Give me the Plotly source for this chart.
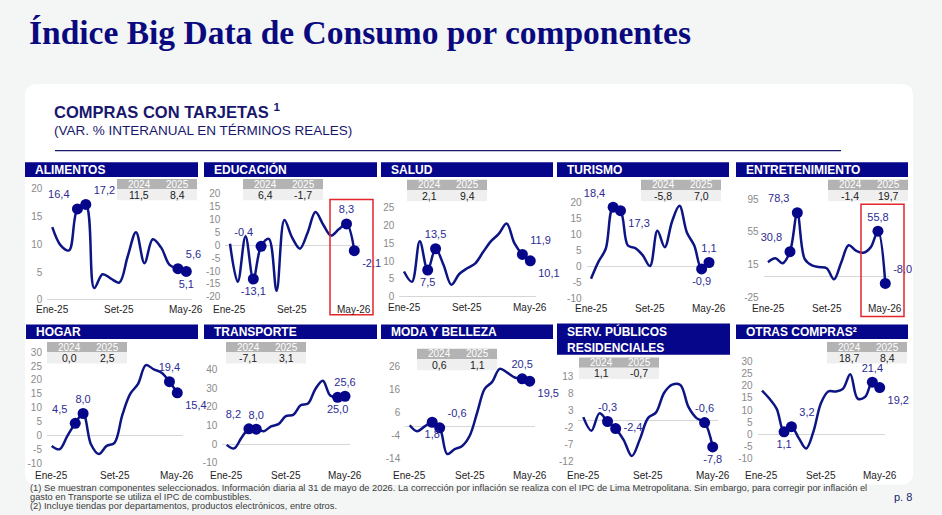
import plotly.graph_objects as go

# ---------------- DATA ----------------
months = ["Ene-25", "Feb-25", "Mar-25", "Abr-25", "May-25", "Jun-25", "Jul-25", "Ago-25", "Set-25",
          "Oct-25", "Nov-25", "Dic-25", "Ene-26", "Feb-26", "Mar-26", "Abr-26", "May-26"]
x_tick_labels = ["Ene-25", "Set-25", "May-26"]
highlight_months = ["Abr-25", "May-25", "Abr-26", "May-26"]

panel_names = ["ALIMENTOS", "EDUCACIÓN", "SALUD", "TURISMO", "ENTRETENIMIENTO",
               "HOGAR", "TRANSPORTE", "MODA Y BELLEZA", "SERV. PÚBLICOS<br>RESIDENCIALES", "OTRAS COMPRAS²"]

alimentos = [13.1, 9.8, 8.9, 16.4, 17.2, 2.1, 4.6, 3.8, 3.1, 7.8, 12.2, 6.6, 10.9, 9.4, 6.3, 5.6, 5.1]
educacion = [0.6, -14.2, 3.4, -13.1, -0.4, 2.5, -17.7, 9.8, 3.0, -1.3, 5.0, 12.9, 8.0, 3.8, 6.2, 8.3, -2.1]
salud = [7.1, 4.2, 15.6, 7.5, 13.5, 9.0, 3.4, 6.4, 8.0, 9.3, 12.5, 15.6, 17.7, 20.6, 15.0, 11.9, 10.1]
turismo = [-4.0, 1.3, 5.4, 18.4, 17.3, 6.4, 5.6, 3.4, 0.0, 11.0, 5.9, 14.0, 18.8, 10.5, 6.4, -0.9, 1.1]
entretenimiento = [17.9, 22.7, 16.7, 30.8, 78.3, 22.0, 14.0, 12.0, 10.5, -3.0, 18.0, 38.6, 32.0, 29.4, 36.0, 55.8, -8.0]
hogar = [-3.6, -4.8, 0.0, 4.5, 8.0, -3.0, -6.5, -3.6, -2.5, 7.5, 15.0, 18.6, 25.3, 23.8, 22.6, 19.4, 15.4]
transporte = [-0.4, -2.3, 3.4, 8.2, 8.0, 6.9, 9.5, 10.7, 15.0, 15.6, 20.8, 21.7, 29.5, 33.9, 26.0, 25.0, 25.6]
moda = [0.5, -2.1, 0.0, 1.8, -0.6, -11.9, -9.8, -8.4, -4.0, 6.0, 16.2, 19.2, 24.8, 23.2, 21.1, 20.5, 19.5]
serv_publicos = [1.0, -3.0, 2.1, -0.3, -2.4, -5.8, -10.5, -5.5, 0.7, 2.4, 8.2, 10.6, 10.5, 4.0, 0.7, -0.6, -7.8]
otras = [18.0, 14.7, 10.5, 1.1, 3.2, -1.5, -5.7, 1.3, 12.7, 17.6, 17.6, 18.7, 24.7, 14.7, 15.3, 21.4, 19.2]

annual_2024 = [11.5, 6.4, 2.1, -5.8, -1.4, 0.0, -7.1, 0.6, 1.1, 18.7]
annual_2025 = [8.4, -1.7, 9.4, 7.0, 19.7, 2.5, 3.1, 1.1, -0.7, 8.4]
table_years = ["2024", "2025"]

y_ticks = [
    [0, 5, 10, 15, 20],
    [-20, -15, -10, -5, 0, 5, 10, 15, 20],
    [0, 5, 10, 15, 20, 25],
    [-10, -5, 0, 5, 10, 15, 20],
    [-25, 15, 55, 95],
    [-10, -5, 0, 5, 10, 15, 20, 25, 30],
    [-10, 0, 10, 20, 30, 40],
    [-14, -4, 6, 16, 26],
    [-12, -7, -2, 3, 8, 13],
    [-10, -5, 0, 5, 10, 15, 20, 25, 30],
]

series = [alimentos, educacion, salud, turismo, entretenimiento,
          hogar, transporte, moda, serv_publicos, otras]

# ---------------- STYLE / GEOMETRY (pixels) ----------------
W, H = 942, 515
NAVY = "#06068a"
LINE = "#0c1583"
LABEL = "#2c2c92"
FONT = "Liberation Sans"

def px(x):
    return x / W

def py(y):
    return 1 - y / H

# x pixel of first / last month, y pixel of top / bottom tick
geo = [
    dict(x0=52.3, x16=186.3, yt=187.3, yb=300.7),
    dict(x0=230.0, x16=354.3, yt=192.3, yb=297.7),
    dict(x0=404.0, x16=530.3, yt=206.7, yb=297.7),
    dict(x0=591.0, x16=709.0, yt=200.7, yb=299.0),
    dict(x0=768.0, x16=885.3, yt=197.7, yb=298.3),
    dict(x0=51.7, x16=177.3, yt=354.3, yb=468.7),
    dict(x0=226.7, x16=345.0, yt=372.0, yb=467.7),
    dict(x0=409.7, x16=529.7, yt=368.7, yb=463.7),
    dict(x0=583.3, x16=712.7, yt=379.3, yb=466.0),
    dict(x0=762.0, x16=879.7, yt=363.7, yb=463.7),
]
xlabel_y = [311, 311, 309, 310, 310, 481, 481, 481, 481, 481]
headers = [
    (25, 160, 198, 175), (204, 160, 377, 175), (381, 160, 553, 175), (557, 160, 729, 175), (736, 160, 908, 175),
    (26, 326, 198, 341), (204, 326, 377, 341), (381, 326, 553, 341), (557, 325, 730, 357), (736, 326, 908, 341),
]
tables = [(117, 177), (243, 177), (407, 178), (641, 178), (828, 178),
          (47, 344), (226, 344), (417, 351), (579, 360), (827, 344)]
text_pos = [
    ["top left", "top right", "top right", "bottom center"],
    ["bottom center", "top left", "top center", "bottom right"],
    ["bottom center", "top center", "top right", "bottom right"],
    ["top left", "bottom right", "bottom center", "top center"],
    ["top left", "top left", "top center", "top right"],
    ["top left", "top center", "top center", "bottom right"],
    ["top left", "top center", "bottom center", "top center"],
    ["bottom center", "top right", "top center", "bottom right"],
    ["top center", "middle right", "top center", "bottom center"],
    ["bottom center", "top right", "top center", "bottom right"],
]
red_boxes = [(330, 198, 373, 316), (861, 203, 904, 318)]

XMIN, XMAX = -0.6, 16.7


def fmt(v):
    return f"{v:.1f}".replace(".", ",")


fig = go.Figure()
layout_axes = {}
shapes = []
annotations = []

# card background
cx0, cy0, cx1, cy1, r = 25, 80, 913, 490, 12
card_path = (
    f"M {px(cx0 + r)} {py(cy0)} L {px(cx1 - r)} {py(cy0)} Q {px(cx1)} {py(cy0)} {px(cx1)} {py(cy0 + r)} "
    f"L {px(cx1)} {py(cy1 - r)} Q {px(cx1)} {py(cy1)} {px(cx1 - r)} {py(cy1)} "
    f"L {px(cx0 + r)} {py(cy1)} Q {px(cx0)} {py(cy1)} {px(cx0)} {py(cy1 - r)} "
    f"L {px(cx0)} {py(cy0 + r)} Q {px(cx0)} {py(cy0)} {px(cx0 + r)} {py(cy0)} Z"
)
shapes.append(dict(type="path", path=card_path, xref="paper", yref="paper",
                   fillcolor="white", line=dict(width=0), layer="below"))

# subtitle rule
shapes.append(dict(type="line", xref="paper", yref="paper", x0=px(55), x1=px(841), y0=py(148), y1=py(148),
                   line=dict(color="#1b1b6e", width=1.2)))

month_index = {m: i for i, m in enumerate(months)}
hi_idx = [month_index[m] for m in highlight_months]
tick_idx = [month_index[m] for m in x_tick_labels]

for k in range(10):
    g = geo[k]
    pitch = (g["x16"] - g["x0"]) / 16
    dl = g["x0"] + XMIN * pitch
    dr = g["x0"] + XMAX * pitch
    sfx = "" if k == 0 else str(k + 1)
    vals = series[k]
    ticks = y_ticks[k]

    layout_axes["xaxis" + sfx] = dict(
        domain=[px(dl), px(dr)], range=[XMIN, XMAX], anchor="y" + sfx,
        showticklabels=False, showgrid=False, zeroline=False,
        showline=False, ticks="", fixedrange=True)
    layout_axes["yaxis" + sfx] = dict(
        domain=[py(g["yb"]), py(g["yt"])], range=[min(ticks), max(ticks)], anchor="x" + sfx,
        tickvals=ticks, ticktext=[str(t) for t in ticks], showgrid=False,
        zeroline=True, zerolinecolor="#d6d6d6", zerolinewidth=1.2,
        showline=False, ticks="", ticklabelstandoff=4,
        tickfont=dict(family=FONT, size=10, color="#8a8a8a"), fixedrange=True)

    # x tick labels as axis-anchored annotations (placed lower, like the reference)
    for ti, lab in zip(tick_idx, x_tick_labels):
        annotations.append(dict(text=lab, xref="x" + sfx, yref="paper", x=ti, y=py(xlabel_y[k]),
                                xanchor="center", yanchor="middle", showarrow=False,
                                font=dict(family=FONT, size=10, color="#1e1e1e")))

    fig.add_trace(go.Scatter(
        x=list(range(len(months))), y=vals, mode="lines",
        line=dict(color=LINE, width=2.5, shape="spline", smoothing=1.0),
        xaxis="x" + sfx, yaxis="y" + sfx, hoverinfo="skip", showlegend=False))
    fig.add_trace(go.Scatter(
        x=hi_idx, y=[vals[i] for i in hi_idx], mode="markers+text",
        text=[fmt(vals[i]) for i in hi_idx], textposition=text_pos[k],
        textfont=dict(family=FONT, size=11, color=LABEL),
        marker=dict(size=11, color=NAVY), cliponaxis=False,
        xaxis="x" + sfx, yaxis="y" + sfx, hoverinfo="skip", showlegend=False))

    # header bar
    hx0, hy0, hx1, hy1 = headers[k]
    shapes.append(dict(type="rect", xref="paper", yref="paper", x0=px(hx0), x1=px(hx1), y0=py(hy1), y1=py(hy0),
                       fillcolor=NAVY, line=dict(width=0)))
    annotations.append(dict(text="<b>" + panel_names[k] + "</b>", xref="paper", yref="paper",
                            x=px(hx0 + 8), y=py((hy0 + hy1) / 2), xanchor="left", yanchor="middle",
                            showarrow=False, align="left",
                            font=dict(family=FONT, size=12, color="white")))

    # small table
    tx, ty = tables[k]
    tw, th1, th2 = 80, 10.5, 11.5
    shapes.append(dict(type="rect", xref="paper", yref="paper", x0=px(tx), x1=px(tx + tw),
                       y0=py(ty + th1), y1=py(ty), fillcolor="#b3b3b3", line=dict(width=0)))
    shapes.append(dict(type="rect", xref="paper", yref="paper", x0=px(tx), x1=px(tx + tw),
                       y0=py(ty + th1 + th2), y1=py(ty + th1), fillcolor="#efefef", line=dict(width=0)))
    for j, (yr, val) in enumerate(zip(table_years, [annual_2024[k], annual_2025[k]])):
        cxp = tx + tw * (0.28 + 0.47 * j)
        annotations.append(dict(text=yr, xref="paper", yref="paper", x=px(cxp), y=py(ty + th1 / 2),
                                xanchor="center", yanchor="middle", showarrow=False,
                                font=dict(family=FONT, size=10, color="white")))
        annotations.append(dict(text=fmt(val), xref="paper", yref="paper", x=px(cxp), y=py(ty + th1 + th2 / 2),
                                xanchor="center", yanchor="middle", showarrow=False,
                                font=dict(family=FONT, size=10.5, color="#1a1a1a")))

for (bx0, by0, bx1, by1) in red_boxes:
    shapes.append(dict(type="rect", xref="paper", yref="paper", x0=px(bx0), x1=px(bx1), y0=py(by1), y1=py(by0),
                       line=dict(color="#e3262b", width=1.5), fillcolor="rgba(0,0,0,0)"))

# titles
annotations.append(dict(text="<b>Índice Big Data de Consumo por componentes</b>", xref="paper", yref="paper",
                        x=px(27), y=py(27), xanchor="left", yanchor="middle", showarrow=False,
                        font=dict(family="Liberation Serif", size=33.5, color="#0a0a7e")))
annotations.append(dict(text="<b>COMPRAS CON TARJETAS <sup>1</sup></b>", xref="paper", yref="paper",
                        x=px(52), y=py(108), xanchor="left", yanchor="middle", showarrow=False,
                        font=dict(family=FONT, size=16.5, color="#17176e")))
annotations.append(dict(text="(VAR. % INTERANUAL EN TÉRMINOS REALES)", xref="paper", yref="paper",
                        x=px(52), y=py(127), xanchor="left", yanchor="middle", showarrow=False,
                        font=dict(family=FONT, size=13.5, color="#17176e")))

foot = [
    "(1) Se muestran componentes seleccionados. Información diaria al 31 de mayo de 2026. La corrección por inflación se realiza con el IPC de Lima Metropolitana. Sin embargo, para corregir por inflación el",
    "gasto en Transporte se utiliza el IPC de combustibles.",
    "(2) Incluye tiendas por departamentos, productos electrónicos, entre otros.",
]
for i, t in enumerate(foot):
    annotations.append(dict(text=t, xref="paper", yref="paper", x=px(28), y=py(494 + 9 * i),
                            xanchor="left", yanchor="middle", showarrow=False,
                            font=dict(family=FONT, size=9.3, color="#3a3a3a")))
annotations.append(dict(text="p. 8", xref="paper", yref="paper", x=px(914), y=py(503),
                        xanchor="right", yanchor="middle", showarrow=False,
                        font=dict(family=FONT, size=11, color="#1b1b6e")))

fig.update_layout(
    width=W, height=H, autosize=False,
    margin=dict(l=0, r=0, t=0, b=0, pad=0),
    paper_bgcolor="#f4f6f6", plot_bgcolor="rgba(0,0,0,0)",
    showlegend=False, shapes=shapes, annotations=annotations,
    font=dict(family=FONT),
    **layout_axes,
)

fig.write_html("out.html", config={"displayModeBar": False},
               post_script="document.body.style.margin='0';document.body.style.overflow='hidden';")
